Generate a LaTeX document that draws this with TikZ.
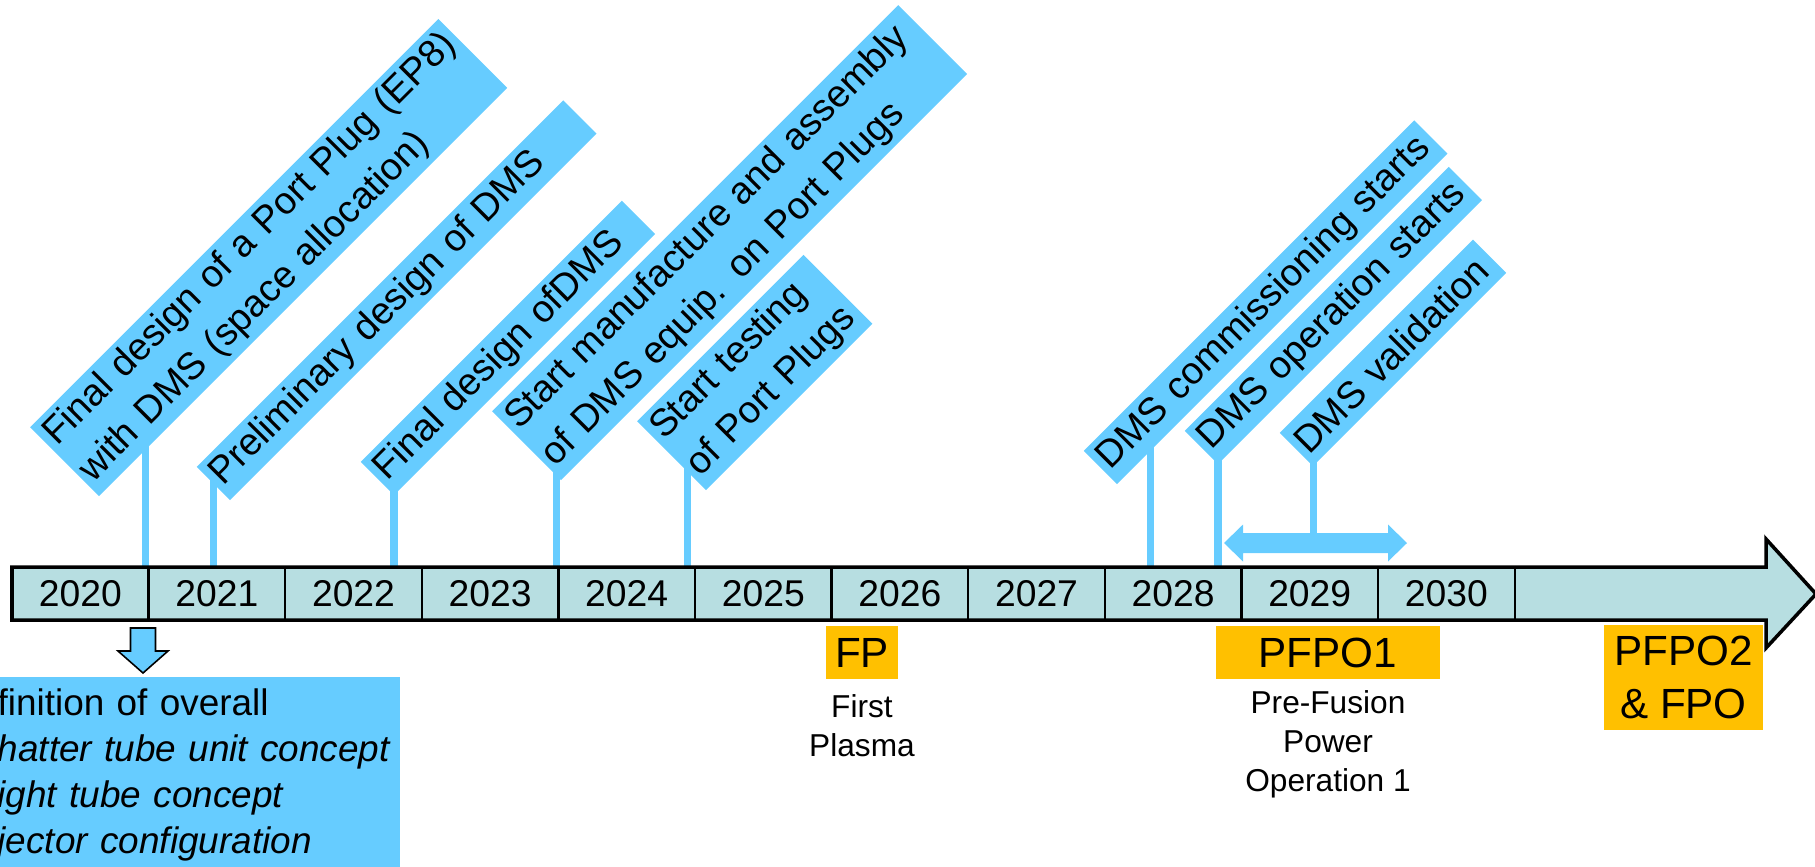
\documentclass[tikz,border=0pt]{standalone}
\usepackage{fontspec}
\setmainfont{Liberation Sans}
\usepackage{xcolor}
\usetikzlibrary{positioning,calc}

\definecolor{labblue}{HTML}{66CCFF}
\definecolor{barteal}{HTML}{B7DEE1}
\definecolor{mileorange}{HTML}{FFC000}

\pgfdeclarelayer{background}
\pgfsetlayers{background,main}

\begin{document}
\begin{tikzpicture}[
    x=0.01cm, y=-0.01cm,
    year/.style={draw, line width=0.65pt, minimum width=1.366cm, minimum height=0.53cm, inner sep=0, font=\fontsize{10.6}{12}\selectfont},
    task/.style={fill=labblue, rotate=45, anchor=south west, align=left, inner xsep=0.05cm, inner ysep=0.055cm, minimum height=0.47cm, font=\fontsize{10.8}{14.5}\selectfont},
    mile/.style={fill=mileorange, minimum height=0.53cm, inner sep=0, font=\fontsize{12}{15}\selectfont},
    note/.style={align=center, inner sep=0, font=\fontsize{9}{11.1}\selectfont},
    stem/.style={draw=labblue, line width=2pt, shorten >=-0.08cm}
]
    \useasboundingbox (0,0) rectangle (1815,866);

    % timeline arrow and the year cells
    \filldraw[fill=barteal, line width=1pt, line join=miter] (12,567) -- (1766,567) -- (1766,539) -- (1816,594) -- (1766,648) -- (1766,620) -- (12,620) -- cycle;
    \foreach \yr [count=\i from 0] in {2020,...,2030}
        \node[year] (y\yr) at ({80.3+136.6*\i},593.5) {\yr};

    % tilted task labels
    \node[task, text width=5.67cm] (lab1) at (99,497) {Final design of a Port Plug (EP8)\\with DMS (space allocation)};
    \node[task, text width=5.08cm] (lab2) at (230,501) {Preliminary design of DMS};
    \node[task, text width=3.59cm] (lab3) at (394,496) {Final design ofDMS};
    \node[task, text width=5.64cm] (lab4) at (561,481) {Start manufacture and assembly\\of DMS equip. on Port Plugs};
    \node[task, text width=2.25cm] (lab5) at (706,491) {Start testing\\of Port Plugs};
    \node[task, text width=4.57cm] (lab6) at (1117,485) {DMS commissioning starts};
    \node[task, text width=3.63cm] (lab7) at (1218,465) {DMS operation starts};
    \node[task, text width=2.63cm] (lab8) at (1313,467) {DMS validation};

    % where the stems meet the labels
    \coordinate (s1) at ($(lab1.south west)!0.113!(lab1.south east)$);
    \coordinate (s2) at ($(lab2.south west)!0.48!(lab2.north west)$);
    \coordinate (s3) at (lab3.south west);
    \coordinate (s4) at ($(lab4.south west)!0.07!(lab4.north west)$);
    \coordinate (s5) at ($(lab5.south west)!0.26!(lab5.north west)$);
    \coordinate (s6) at ($(lab6.south west)!0.1!(lab6.south east)$);
    \coordinate (s7) at (lab7.south west);
    \coordinate (s8) at (lab8.south west);

    % validation period
    \coordinate (v1) at (1224,543);
    \coordinate (v2) at (1407,543);
    \fill[labblue] (v1) -- ++(19,-18.5) -- ++(0,8.5) -- ($(v2)+(-19,-10)$) -- ++(0,-8.5) -- (v2)
        -- ++(-19,18.5) -- ++(0,-8.5) -- ($(v1)+(19,10)$) -- ++(0,8.5) -- cycle;

    \begin{pgfonlayer}{background}
    \foreach \s in {1,...,7}
        \draw[stem] (s\s |- y2020.north) -- (s\s);
    \draw[stem] (s8 |- v1) -- (s8);
    \end{pgfonlayer}

    % milestones
    \node[mile, minimum width=0.71cm] (fp) at (862,652.5) {FP};
    \node[note, below=0.14cm of fp] (fpnote) {First\\Plasma};
    \node[mile, minimum width=2.24cm] (pfpo1) at (1328,652.5) {PFPO1};
    \node[note, below=0.1cm of pfpo1] (pfpo1note) {Pre-Fusion\\Power\\Operation 1};
    \node[mile, minimum width=1.59cm, minimum height=1.05cm, align=center] (pfpo2) at (1683.5,677.5) {PFPO2\\\& FPO};

    % concept box under 2020
    \coordinate (da) at (143,628);
    \filldraw[fill=labblue, line width=0.45pt, line join=miter] (da) ++(-12.5,0) -- ++(25,0) -- ++(0,23) -- ++(12.5,0)
        -- ++(-25,22) -- ++(-25,-22) -- ++(12.5,0) -- cycle;
    \node[fill=labblue, anchor=north west, align=left, text width=4.0cm, inner xsep=0.02cm, inner ysep=0.12cm, font=\fontsize{10.5}{13.1}\selectfont] (concept) at (-5,676)
        {finition of overall\\\textit{hatter tube unit concept}\\\textit{ight tube concept}\\\textit{jector configuration}};
\end{tikzpicture}
\end{document}
